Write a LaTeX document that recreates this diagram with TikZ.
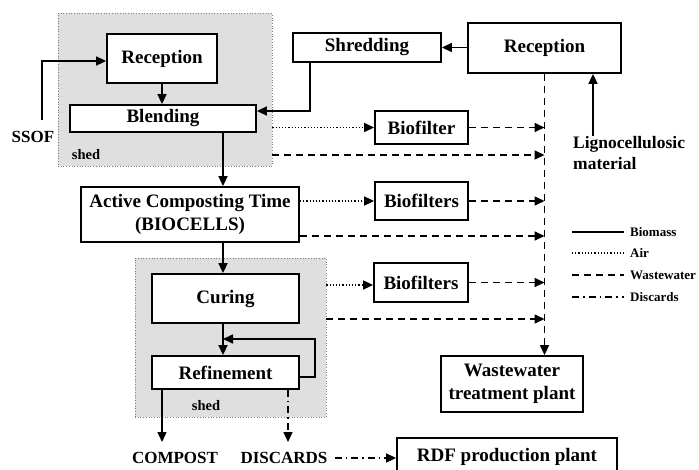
\documentclass[tikz,border=0pt]{standalone}
\usepackage{fontspec}
\setmainfont{Liberation Serif}
\usetikzlibrary{arrows.meta}
\begin{document}
\begin{tikzpicture}[x=1pt,y=-1pt,
  box/.style={draw,line width=1.8pt,fill=white,inner sep=0pt,align=center,font=\fontsize{19}{23}\selectfont\bfseries},
  shedbox/.style={draw=gray,dotted,line width=0.7pt,fill=gray!25},
  lbl/.style={inner sep=0pt,font=\fontsize{17}{21}\selectfont\bfseries},
  shedlbl/.style={inner sep=0pt,font=\fontsize{14.5}{17}\selectfont\bfseries},
  leglbl/.style={inner sep=0pt,anchor=west,font=\fontsize{13}{15}\selectfont\bfseries},
  tip/.style={-{Triangle[length=10pt,width=9pt]}},
  bio/.style={line width=1.6pt,tip},
  air/.style={line width=1.5pt,dash pattern=on 1.2pt off 2pt,tip},
  wat/.style={line width=1.6pt,dash pattern=on 7pt off 5pt,tip},
  dis/.style={line width=1.6pt,dash pattern=on 7pt off 4pt on 1.5pt off 4pt,tip},
  legline/.style={line width=1.4pt}
]
\useasboundingbox (0,0) rectangle (699,469);
% sheds
\node[shedbox,minimum width=214pt,minimum height=153pt,inner sep=0pt] (shedA) at (165,89.5) {};
\node[shedbox,minimum width=191pt,minimum height=159pt,inner sep=0pt] (shedB) at (230.5,337.5) {};
\node[shedlbl] (shedAl) at (86,155) {shed};
\node[shedlbl] (shedBl) at (206,406) {shed};
% boxes
\node[box,minimum width=110pt,minimum height=49pt] (recL) at (162,58.5) {Reception};
\node[box,minimum width=186pt,minimum height=27pt] (blend) at (163,118.5) {Blending};
\node[box,minimum width=148pt,minimum height=29pt] (shred) at (367,47.5) {Shredding};
\node[box,minimum width=153pt,minimum height=50pt] (recR) at (544.5,48) {Reception};
\node[box,minimum width=93pt,minimum height=33pt] (bio1) at (421.5,127.5) {Biofilter};
\node[box,minimum width=218pt,minimum height=55pt] (act) at (190,214.5) {Active Composting Time\\(BIOCELLS)};
\node[box,minimum width=93pt,minimum height=38pt] (bio2) at (421.5,201) {Biofilters};
\node[box,minimum width=147pt,minimum height=49pt] (cur) at (225.5,298.5) {Curing};
\node[box,minimum width=147pt,minimum height=33pt] (ref) at (225.5,372.5) {Refinement};
\node[box,minimum width=94pt,minimum height=39pt] (bio3) at (421,282.5) {Biofilters};
\node[box,minimum width=142pt,minimum height=56pt] (wwtp) at (512,384) {Wastewater\\treatment plant};
\node[box,minimum width=220pt,minimum height=38pt] (rdf) at (507,457) {RDF production plant};
% labels
\node[lbl] (ssof) at (33,137) {SSOF};
\node[lbl,align=left,anchor=north west,font=\fontsize{17.5}{21}\selectfont\bfseries] (ligno) at (573,136) {Lignocellulosic\\material};
\node[lbl] (compost) at (175,458) {COMPOST};
\node[lbl] (discards) at (284,458) {DISCARDS};
% helper coordinates
\coordinate (xa) at (223,0);
\coordinate (xs) at (42,120);
\coordinate (ys) at (0,61);
\coordinate (xsh) at (310,0);
\coordinate (ysh) at (0,111);
\coordinate (xl) at (593,0);
\coordinate (yw1) at (0,155);
\coordinate (yw2) at (0,236);
\coordinate (yw3) at (0,319);
\coordinate (ya3) at (0,285);
\coordinate (yloop) at (0,377);
\coordinate (ytop) at (0,339);
\coordinate (xloop) at (315,0);
\coordinate (xc) at (162,0);
\coordinate (xd) at (288,0);
\coordinate (yend) at (0,442);
% biomass
\draw[bio] (xs) -- (xs |- ys) -- (recL.west |- ys);
\draw[bio] (recL.south) -- (blend.north -| recL.south);
\draw[bio] (shred.south -| xsh) -- (xsh |- ysh) -- (blend.east |- ysh);
\draw[bio] (recR.west |- shred.east) -- (shred.east);
\draw[bio] (ligno.north -| xl) -- (recR.south -| xl);
\draw[bio] (blend.south -| xa) -- (act.north -| xa);
\draw[bio] (act.south -| xa) -- (cur.north -| xa);
\draw[bio] (cur.south -| xa) -- (ref.north -| xa);
\draw[bio] (ref.east |- yloop) -- (xloop |- yloop) -- (xloop |- ytop) -- (xa |- ytop);
\draw[bio] (ref.south -| xc) -- (xc |- yend);
% air
\draw[air] (shedA.east |- bio1.west) -- (bio1.west);
\draw[air] (act.east |- bio2.west) -- (bio2.west);
\draw[air] (shedB.east |- ya3) -- (bio3.west |- ya3);
% wastewater
\draw[wat] (bio1.east) -- (recR.south |- bio1.east);
\draw[wat] (shedA.east |- yw1) -- (recR.south |- yw1);
\draw[wat] (bio2.east) -- (recR.south |- bio2.east);
\draw[wat] (act.east |- yw2) -- (recR.south |- yw2);
\draw[wat] (bio3.east) -- (recR.south |- bio3.east);
\draw[wat] (shedB.east |- yw3) -- (recR.south |- yw3);
\draw[wat] (recR.south) -- (recR.south |- wwtp.north);
% discards
\draw[dis] (ref.south -| xd) -- (xd |- yend);
\draw[dis] ([xshift=7pt]discards.east) -- (rdf.west |- discards.east);
% legend
\coordinate (lg1) at (572,232);
\coordinate (lg2) at (572,253);
\coordinate (lg3) at (572,275);
\coordinate (lg4) at (572,297);
\node[leglbl] (t1) at (630,232) {Biomass};
\node[leglbl] (t2) at (630,253) {Air};
\node[leglbl] (t3) at (630,275) {Wastewater};
\node[leglbl] (t4) at (630,297) {Discards};
\draw[legline] (lg1) -- ([xshift=-6pt]t1.west);
\draw[legline,dash pattern=on 1.2pt off 2pt] (lg2) -- ([xshift=-6pt]t2.west);
\draw[legline,dash pattern=on 7pt off 5pt] (lg3) -- ([xshift=-6pt]t3.west);
\draw[legline,dash pattern=on 7pt off 4pt on 1.5pt off 4pt] (lg4) -- ([xshift=-6pt]t4.west);
\end{tikzpicture}
\end{document}
